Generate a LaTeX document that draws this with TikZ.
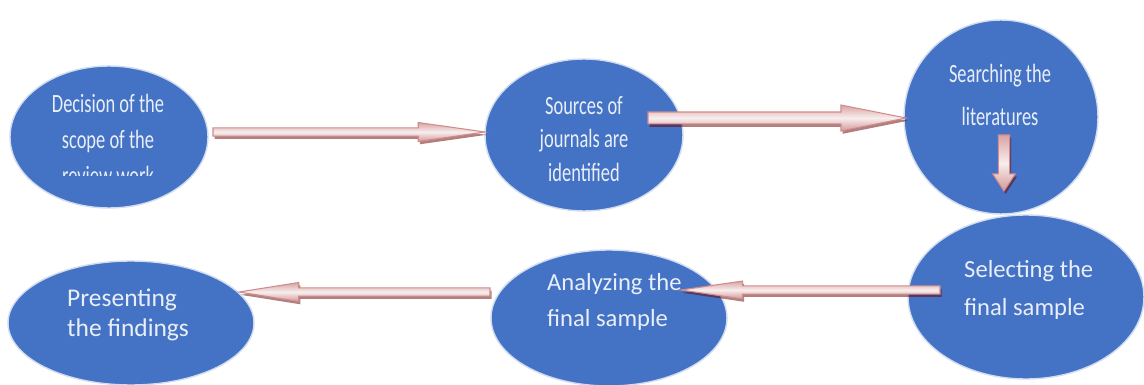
\documentclass[tikz,border=0pt]{standalone}
\usepackage{fontspec}
\setmainfont{Carlito}
\newfontfamily\narrowfont{Carlito}[FakeStretch=0.7]
\usetikzlibrary{calc,shapes.geometric,shadows}

\definecolor{stepblue}{HTML}{4472C4}
\definecolor{steptext}{HTML}{E9EFF8}
\definecolor{arrowedge}{HTML}{D08C8C}

% block arrow: from, to, half shaft, half head, head length
\newcommand{\pinkarrow}[5]{%
  \coordinate (ph) at ($(#2)!#5!(#1)$);
  \draw[flowarrow] ($(#1)!#3!90:(#2)$) -- ($(ph)!#3!-90:(#1)$)
    -- ($(ph)!#4!-90:(#1)$) -- (#2) -- ($(ph)!#4!90:(#1)$)
    -- ($(ph)!#3!90:(#1)$) -- ($(#1)!#3!-90:(#2)$) -- cycle;
}

\begin{document}
\begin{tikzpicture}[x=0.02cm, y=-0.02cm,
    stepcircle/.style={ellipse, fill=stepblue, draw=white!75!stepblue, line width=0.8pt, inner sep=0pt},
    toptext/.style={text=steptext, align=center, font={\narrowfont\fontsize{15}{17}\selectfont}},
    lowtext/.style={text=steptext, align=left, anchor=west, font={\fontsize{14}{21}\selectfont}},
    flowarrow/.style={draw=arrowedge, line width=0.6pt, top color=arrowedge!80, bottom color=arrowedge!90,
      middle color=white!85!arrowedge, drop shadow={shadow xshift=0.9pt, shadow yshift=-1.6pt, fill=black!60!red, opacity=.5}}]
  \useasboundingbox (0,0) rectangle (1144,385);

  % ellipses
  \node[stepcircle, minimum width=3.96cm, minimum height=2.84cm] (decision) at (109,137) {};
  \node[stepcircle, minimum width=3.96cm, minimum height=3.04cm] (sources) at (584,135) {};
  \node[stepcircle, minimum width=3.88cm, minimum height=3.88cm] (searching) at (1001,117) {};
  \node[stepcircle, minimum width=4.72cm, minimum height=3.28cm] (selecting) at (1026,297) {};
  \node[stepcircle, minimum width=4.72cm, minimum height=2.72cm] (analyzing) at (609,318) {};
  \node[stepcircle, minimum width=4.92cm, minimum height=2.48cm] (presenting) at (131,323) {};

  % texts
  \begin{scope}
    \clip (0,0) rectangle (1144,176);
    \node[toptext, font={\narrowfont\fontsize{15}{20.5}\selectfont}] (decisiontext) at (108,139) {Decision of the\\scope of the\\review work};
  \end{scope}
  \node[toptext, font={\narrowfont\fontsize{15}{19}\selectfont}] (sourcestext) at (584,139) {Sources of\\journals are\\identified};
  \node[toptext, font={\narrowfont\fontsize{15}{24}\selectfont}] (searchingtext) at (1000,95) {Searching the\\literatures};
  \node[lowtext, font={\fontsize{14}{21.5}\selectfont}] (selectingtext) at (958,290) {Selecting the\\final sample};
  \node[lowtext, font={\fontsize{14}{20.5}\selectfont}] (analyzingtext) at (541,302) {Analyzing the\\final sample};
  \node[lowtext, font={\fontsize{14.5}{17}\selectfont}] (presentingtext) at (61,315) {Presenting\\the findings};

  % arrow ends
  \coordinate (a1s) at (213,132);
  \coordinate (a1e) at (485,132);
  \coordinate (a2s) at (648,118);
  \coordinate (a2e) at (906,118);
  \coordinate (a3s) at (1004,135);
  \coordinate (a3e) at (1004,191);
  \coordinate (a4s) at (940,290);
  \coordinate (a4e) at (681,290);
  \coordinate (a5s) at (490,292);
  \coordinate (a5e) at (239,292);

  % arrows
  \pinkarrow{a1s}{a1e}{2.3pt}{5.4pt}{38pt}
  \pinkarrow{a2s}{a2e}{3.4pt}{7.4pt}{37pt}
  \pinkarrow{a3s}{a3e}{3.2pt}{6.5pt}{9.8pt}
  \pinkarrow{a4s}{a4e}{2.3pt}{5.1pt}{35pt}
  \pinkarrow{a5s}{a5e}{2.3pt}{5.4pt}{34pt}
\end{tikzpicture}
\end{document}
